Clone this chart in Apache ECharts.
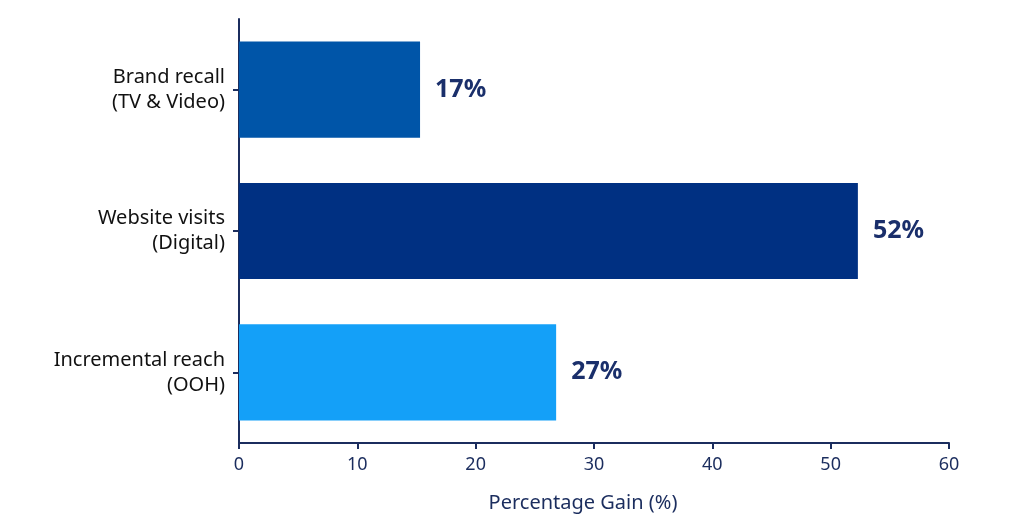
<!DOCTYPE html>
<html>
<head>
<meta charset="utf-8">
<script src="https://cdn.jsdelivr.net/npm/echarts@6/dist/echarts.min.js"></script>
<style>
html,body{margin:0;padding:0;background:#fff;}
#chart{width:1024px;height:532px;}
</style>
</head>
<body>
<div id="chart"></div>
<script>
const categories = ["Brand recall\n(TV & Video)", "Website visits\n(Digital)", "Incremental reach\n(OOH)"];
const barValues = [15.3, 52.3, 26.8];
const valueLabels = ["17%", "52%", "27%"];
const barColors = ["#0055A8", "#003082", "#14A0F8"];
const xTicks = [0, 10, 20, 30, 40, 50, 60];
const xAxisTitle = "Percentage Gain (%)";

const axisColor = "#1B2D5E";
const font = 'Noto Sans';
const chart = echarts.init(document.getElementById('chart'));
chart.setOption({
  backgroundColor: '#ffffff',
  animation: false,
  grid: { left: 239, right: 75, top: 19, bottom: 89, containLabel: false },
  xAxis: {
    type: 'value',
    min: xTicks[0], max: xTicks[xTicks.length - 1], interval: 10,
    name: xAxisTitle,
    nameLocation: 'middle',
    nameGap: 50,
    nameTextStyle: { color: axisColor, fontSize: 20, fontFamily: font, padding: [0, 22, 0, 0] },
    axisLine: { show: true, lineStyle: { color: axisColor, width: 2 } },
    axisTick: { show: true, length: 6, lineStyle: { color: axisColor, width: 2 } },
    axisLabel: { color: axisColor, fontSize: 18, fontFamily: font, margin: 13 },
    splitLine: { show: false }
  },
  yAxis: {
    type: 'category',
    data: categories,
    inverse: true,
    axisLine: { show: true, lineStyle: { color: axisColor, width: 2 } },
    axisTick: { show: true, alignWithLabel: true, length: 6, lineStyle: { color: axisColor, width: 2 } },
    axisLabel: { color: '#111111', fontSize: 20, fontFamily: font, lineHeight: 25, margin: 14, align: 'right' }
  },
  series: [{
    type: 'bar',
    data: barValues.map((v, i) => ({ value: v, itemStyle: { color: barColors[i] } })),
    barCategoryGap: '32%',
    label: {
      show: true,
      position: 'right',
      distance: 15,
      formatter: p => valueLabels[p.dataIndex],
      color: '#1A2F6B',
      fontSize: 25,
      fontWeight: 'bold',
      fontFamily: font
    }
  }]
});
</script>
</body>
</html>
